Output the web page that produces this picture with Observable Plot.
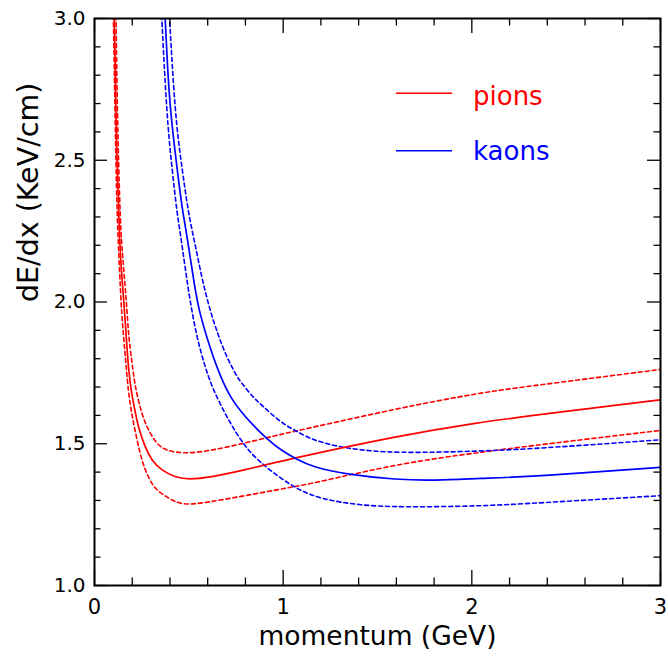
<!DOCTYPE html>
<html><head><meta charset="utf-8">
<script src="https://cdn.jsdelivr.net/npm/d3@7"></script>
<script src="https://cdn.jsdelivr.net/npm/@observablehq/plot@0.6"></script>
<style>body{margin:0;background:#fff}#chart{width:668px;height:656px}</style>
</head><body><div id="chart"></div>
<script>
// ---- data ----
const series = ["pions", "kaons"];
const seriesColors = ["#ff0000", "#0000ff"];
const xMajorTicks = [0, 1, 2, 3];
const xMinorTicks = [0.2,0.4,0.6,0.8,1.2,1.4,1.6,1.8,2.2,2.4,2.6,2.8];
const yMajorTicks = [1.0, 1.5, 2.0, 2.5, 3.0];
const yMinorTicks = [1.1,1.2,1.3,1.4,1.6,1.7,1.8,1.9,2.1,2.2,2.3,2.4,2.6,2.7,2.8,2.9];
const xTitle = "momentum (GeV)";
const yTitle = "dE/dx (KeV/cm)";

const pionCentralP = [0.105,0.109,0.114,0.119,0.126,0.132,0.141,0.158,0.167,0.179,0.195,0.218,0.232,0.268,0.303,0.356,0.427,0.497,0.621,0.798,0.984,1.063,1.602,2.044,2.327,3.0];
const pionCentralV = [3.01,2.86,2.66,2.50,2.37,2.24,2.12,1.98,1.89,1.77,1.68,1.606,1.558,1.488,1.441,1.406,1.382,1.373,1.382,1.408,1.438,1.450,1.527,1.576,1.600,1.655];
const pionUpperP = [0.114,0.121,0.135,0.144,0.171,0.179,0.197,0.211,0.224,0.250,0.285,0.330,0.374,0.497,0.710,0.984,1.063,1.62,2.044,2.327,3.0];
const pionUpperV = [3.01,2.66,2.31,2.20,1.99,1.89,1.794,1.723,1.676,1.606,1.547,1.500,1.476,1.462,1.488,1.533,1.544,1.627,1.680,1.705,1.762];
const pionLowerP = [0.100,0.109,0.118,0.132,0.144,0.162,0.179,0.197,0.215,0.241,0.268,0.312,0.356,0.427,0.497,0.710,1.063,1.160,1.62,2.044,2.327,3.0];
const pionLowerV = [3.01,2.66,2.33,2.123,1.95,1.82,1.682,1.606,1.547,1.465,1.406,1.347,1.323,1.294,1.282,1.306,1.349,1.361,1.431,1.470,1.494,1.547];

const kaonCentralP = [0.374,0.386,0.404,0.436,0.464,0.489,0.533,0.559,0.595,0.630,0.665,0.718,0.798,0.922,0.984,1.063,1.160,1.337,1.602,1.8,2.044,2.327,3.0];
const kaonCentralV = [3.01,2.834,2.658,2.481,2.33,2.241,2.041,1.958,1.876,1.805,1.742,1.664,1.594,1.511,1.480,1.448,1.417,1.392,1.373,1.370,1.378,1.384,1.417];
const kaonUpperP = [0.397,0.427,0.462,0.497,0.533,0.568,0.612,0.656,0.701,0.754,0.771,0.842,0.886,0.984,1.063,1.160,1.337,1.602,2.044,2.327,3.0];
const kaonUpperV = [3.01,2.658,2.481,2.314,2.205,2.087,1.970,1.882,1.805,1.738,1.722,1.662,1.637,1.576,1.547,1.511,1.482,1.466,1.474,1.482,1.514];
const kaonLowerP = [0.356,0.383,0.409,0.439,0.453,0.480,0.506,0.542,0.586,0.630,0.710,0.798,0.886,1.063,1.2,1.4,1.62,2.044,2.327,3.0];
const kaonLowerV = [3.01,2.658,2.481,2.305,2.252,2.123,2.005,1.876,1.770,1.688,1.582,1.488,1.428,1.341,1.305,1.283,1.276,1.280,1.290,1.317];

// ---- build table ----
function rowsOf(species, band, P, V) {
  return P.map((p, i) => ({species, band, key: species + "-" + band, p, v: V[i],
    color: seriesColors[series.indexOf(species)]}));
}
const rows = [
  ...rowsOf("pions", "mid", pionCentralP, pionCentralV),
  ...rowsOf("pions", "hi", pionUpperP, pionUpperV),
  ...rowsOf("pions", "lo", pionLowerP, pionLowerV),
  ...rowsOf("kaons", "mid", kaonCentralP, kaonCentralV),
  ...rowsOf("kaons", "hi", kaonUpperP, kaonUpperV),
  ...rowsOf("kaons", "lo", kaonLowerP, kaonLowerV)
];

const W = 668, H = 656, mL = 94, mR = 8, mT = 18, mB = 71;
const iW = W - mL - mR, iH = H - mT - mB;
const FONT = "'DejaVu Sans', sans-serif";

const chart = Plot.plot({
  width: W, height: H,
  marginLeft: mL, marginRight: mR, marginTop: mT, marginBottom: mB,
  style: {fontFamily: FONT, background: "#fff", overflow: "visible"},
  x: {domain: [0, 3], axis: null},
  y: {domain: [1, 3], axis: null},
  color: {type: "identity"},
  marks: [
    Plot.ruleX([0], {stroke: "#0000ff", strokeWidth: 1, strokeDasharray: "4,3"}),
    Plot.line(rows.filter(d => d.band !== "mid"), {x: "p", y: "v", z: "key", stroke: "color",
      strokeWidth: 1.6, strokeDasharray: "4,3", curve: "basis", clip: true}),
    Plot.line(rows.filter(d => d.band === "mid"), {x: "p", y: "v", z: "key", stroke: "color",
      strokeWidth: 1.7, curve: "basis", clip: true}),
    // ticks (inward, on all four sides)
    Plot.tickX(xMajorTicks, {x: d => d, insetTop: iH - 15, stroke: "#000", strokeWidth: 1.3}),
    Plot.tickX(xMajorTicks, {x: d => d, insetBottom: iH - 15, stroke: "#000", strokeWidth: 1.3}),
    Plot.tickX(xMinorTicks, {x: d => d, insetTop: iH - 7.5, stroke: "#000", strokeWidth: 1.3}),
    Plot.tickX(xMinorTicks, {x: d => d, insetBottom: iH - 7.5, stroke: "#000", strokeWidth: 1.3}),
    Plot.tickY(yMajorTicks, {y: d => d, insetRight: iW - 13, stroke: "#000", strokeWidth: 1.3}),
    Plot.tickY(yMajorTicks, {y: d => d, insetLeft: iW - 13, stroke: "#000", strokeWidth: 1.3}),
    Plot.tickY(yMinorTicks, {y: d => d, insetRight: iW - 6.5, stroke: "#000", strokeWidth: 1.3}),
    Plot.tickY(yMinorTicks, {y: d => d, insetLeft: iW - 6.5, stroke: "#000", strokeWidth: 1.3}),
    // tick labels
    Plot.text(xMajorTicks, {x: d => d, frameAnchor: "bottom", dy: 14, lineAnchor: "top",
      text: d => String(d), fontSize: 21, fill: "#000"}),
    Plot.text(yMajorTicks, {y: d => d, frameAnchor: "left", dx: -9, textAnchor: "end",
      text: d => d.toFixed(1), fontSize: 20, fill: "#000"}),
    // axis titles
    Plot.text([xTitle], {frameAnchor: "bottom", dy: 59, lineAnchor: "bottom", text: d => d,
      fontSize: 26.5, fill: "#000"}),
    Plot.text([yTitle], {frameAnchor: "left", dx: -57, rotate: -90, lineAnchor: "bottom", text: d => d,
      fontSize: 28.5, fill: "#000"}),
    Plot.frame({stroke: "#000", strokeWidth: 2})
  ]
});

// legend inside the plot area
const svg = d3.select(chart);
const legendRows = [{y: 93.3, base: 105}, {y: 150.7, base: 160}];
series.forEach((s, i) => {
  svg.append("line").attr("x1", 396).attr("x2", 452)
    .attr("y1", legendRows[i].y).attr("y2", legendRows[i].y)
    .attr("stroke", seriesColors[i]).attr("stroke-width", 1.5);
  svg.append("text").attr("x", 473).attr("y", legendRows[i].base)
    .attr("text-anchor", "start")
    .attr("fill", seriesColors[i]).attr("font-size", 26).attr("font-family", FONT)
    .text(s);
});

document.getElementById("chart").appendChild(chart);
</script>
</body></html>
